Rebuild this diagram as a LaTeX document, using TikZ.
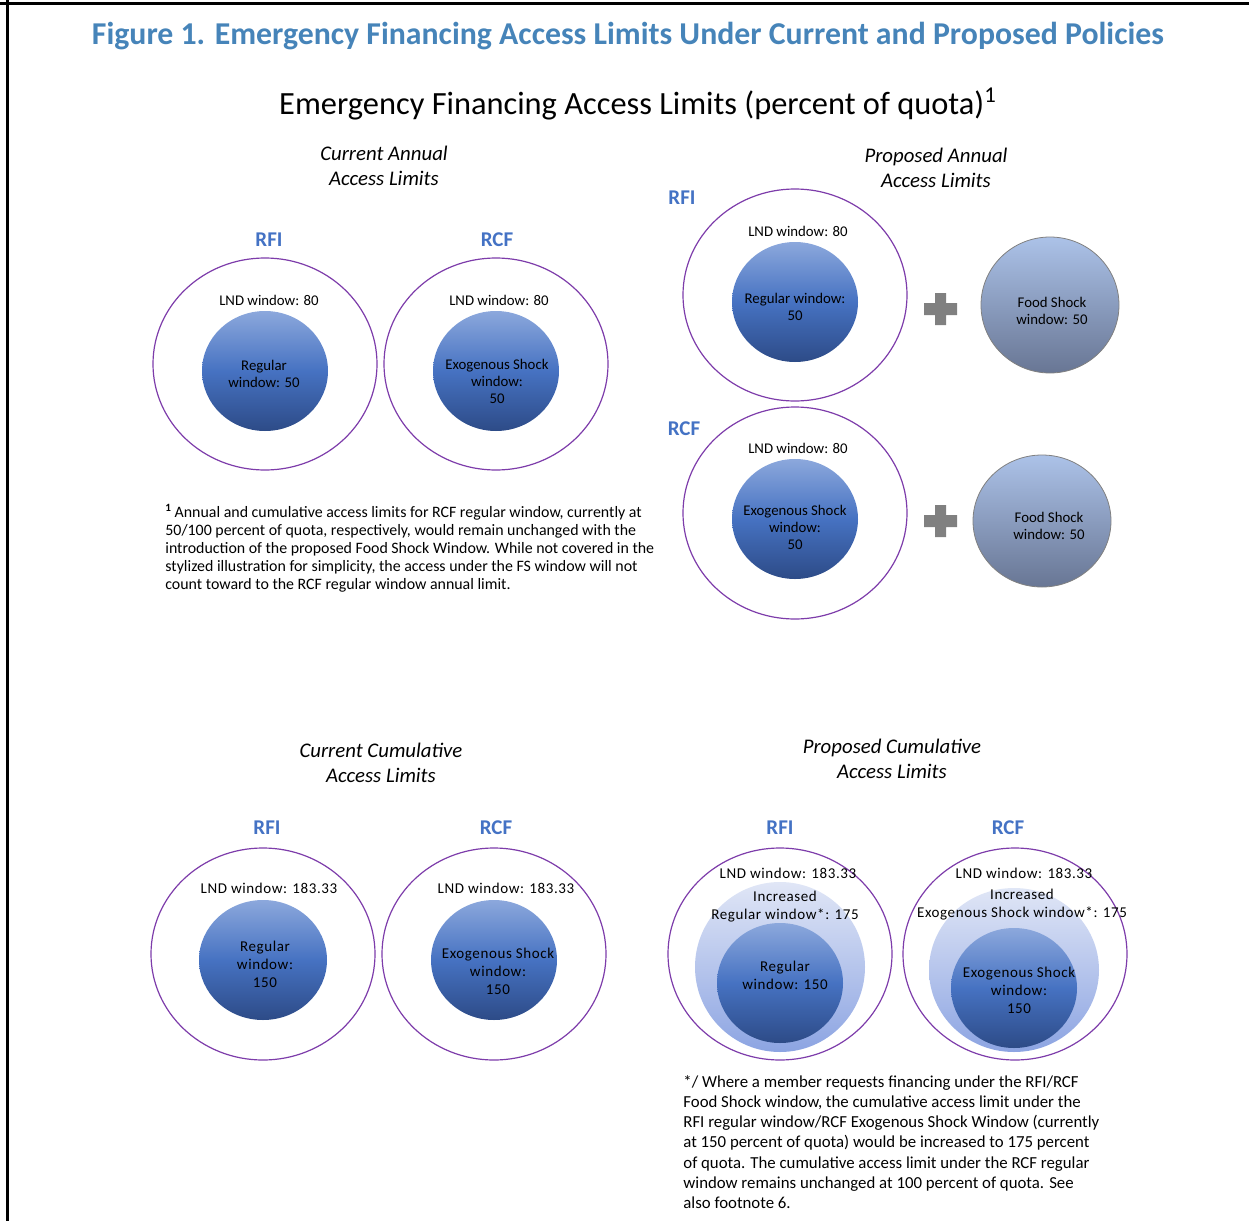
\documentclass[tikz,border=0pt]{standalone}
\usepackage{fontspec}
\setmainfont{Carlito}
\newfontfamily\widefont[LetterSpace=4]{Carlito}
\usetikzlibrary{shapes.geometric}
\definecolor{titleblue}{RGB}{70,132,185}
\definecolor{labelblue}{RGB}{68,114,196}
\definecolor{ringpurple}{RGB}{125,60,170}
\definecolor{balltop}{RGB}{140,168,220}
\definecolor{ballmid}{RGB}{70,114,194}
\definecolor{ballbot}{RGB}{45,75,135}
\definecolor{foodtop}{RGB}{172,194,232}
\definecolor{foodbot}{RGB}{104,118,148}
\definecolor{inctop}{RGB}{224,230,246}
\definecolor{incbot}{RGB}{140,164,226}
\definecolor{plusgray}{RGB}{128,128,128}

\begin{document}
\begin{tikzpicture}[x=0.5pt,y=-0.5pt,
  ring/.style={ellipse,draw=ringpurple,line width=0.6pt,minimum width=112pt,minimum height=106pt,inner sep=0pt},
  ball/.style={ellipse,top color=balltop,bottom color=ballbot,middle color=ballmid,minimum width=63pt,minimum height=60pt,inner sep=0pt},
  food/.style={ellipse,draw=plusgray,line width=0.4pt,top color=foodtop,bottom color=foodbot,minimum width=69pt,minimum height=68pt,inner sep=0pt},
  incr/.style={ellipse,top color=inctop,bottom color=incbot,minimum width=85pt,minimum height=85pt,inner sep=0pt},
  prog/.style={text=labelblue,font=\fontsize{10.5}{12}\selectfont\bfseries},
  head/.style={align=center,font=\fontsize{10.4}{12.5}\selectfont\itshape},
  small/.style={align=center,font=\fontsize{7.4}{8.5}\selectfont},
  big/.style={align=center,font=\widefont\fontsize{7.5}{9}\selectfont},
  note/.style={align=left,anchor=north west,inner sep=0pt}]
\useasboundingbox (0,0) rectangle (1249,1221);
% frame
\draw[line width=1.5pt] (0,3.5) -- (1249,3.5);
\draw[line width=1.5pt] (7.5,0) -- (7.5,1221);
% titles
\node[text=titleblue,font=\fontsize{15.9}{18}\selectfont\bfseries] (title) at (628,36) {Figure 1. Emergency Financing Access Limits Under Current and Proposed Policies};
\node[font=\fontsize{16.2}{18}\selectfont] (subtitle) at (638,104) {Emergency Financing Access Limits (percent of quota)\textsuperscript{1}};

% current annual
\node[head] (curann) at (384,165.5) {Current Annual\\Access Limits};
\node[prog] (caRFI) at (269,240) {RFI};
\node[prog] (caRCF) at (497,240) {RCF};
\node[ring] (caRFIring) at (265,364) {};
\node[ball] (caRFIball) at (265,371) {};
\node[ring] (caRCFring) at (496,364) {};
\node[ball] (caRCFball) at (496,371) {};
\node[small] (caRFIlnd) at (269,300) {LND window: 80};
\node[small] (caRCFlnd) at (499,300) {LND window: 80};
\node[small] (caRFItxt) at (264,373.5) {Regular\\window: 50};
\node[small] (caRCFtxt) at (497,381.5) {Exogenous Shock\\window:\\50};
\node[note,font=\fontsize{7.95}{9}\selectfont] (note1) at (165,504) {\textsuperscript{\textbf{1}}\,Annual and cumulative access limits for RCF regular window, currently at\\50/100 percent of quota, respectively, would remain unchanged with the\\introduction of the proposed Food Shock Window. While not covered in the\\stylized illustration for simplicity, the access under the FS window will not\\count toward to the RCF regular window annual limit.};

% proposed annual
\node[head] (propann) at (936,167.5) {Proposed Annual\\Access Limits};
\node[prog] (paRFI) at (682,198) {RFI};
\node[prog] (paRCF) at (684,429) {RCF};
\node[ring] (paRFIring) at (795,295) {};
\node[ball] (paRFIball) at (795,302) {};
\node[small] (paRFIlnd) at (798,231) {LND window: 80};
\node[small] (paRFItxt) at (795,306.5) {Regular window:\\50};
\fill[plusgray] (924,303) rectangle (957,315) (935,293) rectangle (946,325);
\node[food] (paRFIfood) at (1050,305) {};
\node[small] (paRFIfs) at (1052,311) {Food Shock\\window: 50};
\node[ring] (paRCFring) at (795,513) {};
\node[ball] (paRCFball) at (795,519) {};
\node[small] (paRCFlnd) at (798,448) {LND window: 80};
\node[small] (paRCFtxt) at (795,527.5) {Exogenous Shock\\window:\\50};
\fill[plusgray] (924,515) rectangle (957,527) (935,505) rectangle (946,537);
\node[food,minimum height=66pt] (paRCFfood) at (1042,521) {};
\node[small] (paRCFfs) at (1049,526) {Food Shock\\window: 50};

% current cumulative
\node[head] (curcum) at (381,762.5) {Current Cumulative\\Access Limits};
\node[prog] (ccRFI) at (267,828) {RFI};
\node[prog] (ccRCF) at (496,828) {RCF};
\node[ring] (ccRFIring) at (263,954) {};
\node[ball,minimum width=64pt] (ccRFIball) at (263,960) {};
\node[ring] (ccRCFring) at (494,954) {};
\node[ball] (ccRCFball) at (494,960) {};
\node[big] (ccRFIlnd) at (269,888) {LND window: 183.33};
\node[big] (ccRCFlnd) at (506,888) {LND window: 183.33};
\node[big] (ccRFItxt) at (265,964) {Regular\\window:\\150};
\node[big] (ccRCFtxt) at (498,971.5) {Exogenous Shock\\window:\\150};

% proposed cumulative
\node[head] (propcum) at (892,758.5) {Proposed Cumulative\\Access Limits};
\node[prog] (pcRFI) at (780,828) {RFI};
\node[prog] (pcRCF) at (1008,828) {RCF};
\node[ring] (pcRFIring) at (780,954) {};
\node[incr] (pcRFIinc) at (780,967) {};
\node[ball] (pcRFIball) at (780,983) {};
\node[ring] (pcRCFring) at (1015,954) {};
\node[incr,minimum height=82pt] (pcRCFinc) at (1014,970) {};
\node[ball] (pcRCFball) at (1014,988) {};
\node[big] (pcRFIlnd) at (788,873) {LND window: 183.33};
\node[big] (pcRCFlnd) at (1024,873) {LND window: 183.33};
\node[big] (pcRFIincr) at (785,907) {Increased\\Regular window*: 175};
\node[big] (pcRCFincr) at (1022,904.5) {Increased\\Exogenous Shock window*: 175};
\node[big] (pcRFItxt) at (785,975) {Regular\\window: 150};
\node[big] (pcRCFtxt) at (1019,990.5) {Exogenous Shock\\window:\\150};
\node[note,font=\fontsize{8.4}{10.1}\selectfont] (note2) at (683,1075) {*/ Where a member requests financing under the RFI/RCF\\Food Shock window, the cumulative access limit under the\\RFI regular window/RCF Exogenous Shock Window (currently\\at 150 percent of quota) would be increased to 175 percent\\of quota. The cumulative access limit under the RCF regular\\window remains unchanged at 100 percent of quota. See\\also footnote 6.};
\end{tikzpicture}
\end{document}
